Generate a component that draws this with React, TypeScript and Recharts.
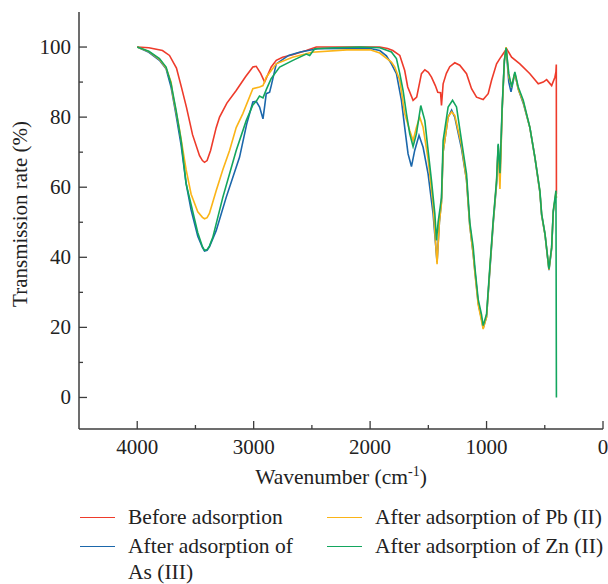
import { LineChart, Line, XAxis, YAxis } from "recharts";

const FONT = "'Liberation Serif', 'DejaVu Serif', serif";
const AXIS = "#3c3c3c";

// Before adsorption
const beforeWn = [4000, 3900, 3783, 3723, 3663, 3620, 3577, 3525, 3465, 3440, 3422, 3400, 3370, 3322, 3293, 3230, 3150, 3070, 3007, 2978, 2940, 2906, 2880, 2849, 2806, 2752, 2666, 2548, 2462, 2300, 2100, 1917, 1850, 1805, 1745, 1703, 1677, 1631, 1600, 1559, 1530, 1500, 1473, 1440, 1419, 1395, 1387, 1373, 1345, 1316, 1273, 1230, 1172, 1129, 1086, 1029, 986, 957, 914, 886, 857, 828, 785, 714, 628, 556, 513, 484, 441, 413, 404, 401, 400];
const beforeT = [100, 99.8, 99, 97.6, 94, 88.5, 82.8, 75, 69, 67.6, 67.1, 67.6, 70.5, 77, 80, 84, 87.6, 91.5, 94.3, 94.5, 92.5, 90, 92, 94.3, 96.2, 97.1, 97.8, 99, 100, 100, 100, 100, 99.6, 99, 97.6, 93.3, 88.6, 84.8, 85.7, 92.4, 93.5, 92.8, 91.4, 89, 87.1, 87, 83.3, 89.5, 92.5, 94.4, 95.5, 94.8, 92.4, 88.1, 85.7, 85, 86.7, 90.5, 95.2, 96.7, 98.1, 99.5, 97.1, 95.2, 92.4, 89.5, 90, 90.7, 89, 91.4, 93, 95, 58];

// After adsorption of As (III)
const asWn = [4000, 3900, 3809, 3752, 3709, 3666, 3623, 3580, 3537, 3480, 3440, 3422, 3400, 3380, 3322, 3236, 3121, 3060, 3007, 2978, 2949, 2920, 2906, 2892, 2863, 2849, 2806, 2700, 2600, 2450, 2200, 2000, 1917, 1860, 1817, 1774, 1731, 1703, 1674, 1645, 1617, 1580, 1545, 1502, 1459, 1425, 1405, 1387, 1373, 1330, 1300, 1273, 1215, 1172, 1144, 1115, 1100, 1072, 1044, 1029, 1000, 970, 943, 914, 900, 885, 866, 847, 832, 809, 790, 757, 728, 685, 628, 585, 542, 527, 498, 464, 441, 427, 404, 400];
const asT = [100, 98.5, 96.2, 93.8, 88.5, 80.5, 72, 61, 53.5, 46, 42.8, 41.8, 42, 43, 47.6, 57.1, 68.6, 78, 84.3, 84.5, 82.9, 79.5, 83, 86.7, 87.1, 89, 95.2, 97.6, 98.6, 99.5, 99.6, 99.6, 99, 97.5, 95.2, 92.4, 84.8, 77.1, 69.5, 65.9, 70.5, 74.8, 71.4, 63.8, 52.4, 38.6, 50, 56, 70, 80, 82, 80, 71, 62, 49, 41, 36, 27, 22.5, 19.8, 23, 37, 49.5, 61, 72, 62, 82, 96, 99.8, 90, 87.2, 92.5, 88, 84, 77, 68.5, 58.5, 52, 46.5, 36.3, 42.5, 53, 58, 57];

// After adsorption of Pb (II)
const pbWn = [4000, 3900, 3809, 3752, 3709, 3695, 3637, 3580, 3537, 3480, 3440, 3422, 3400, 3380, 3322, 3265, 3207, 3150, 3093, 3007, 2949, 2920, 2892, 2806, 2666, 2500, 2200, 2000, 1917, 1817, 1788, 1745, 1703, 1660, 1631, 1602, 1574, 1545, 1502, 1459, 1425, 1405, 1387, 1373, 1330, 1300, 1273, 1215, 1172, 1144, 1115, 1100, 1072, 1044, 1029, 1000, 970, 943, 914, 900, 885, 866, 847, 832, 809, 785, 757, 728, 685, 628, 585, 542, 527, 498, 464, 441, 427, 404, 400];
const pbT = [100, 98.7, 96.5, 94, 90, 86.5, 76.5, 65, 58, 53, 51.4, 51, 51.3, 52.5, 59, 65, 70.5, 77, 81, 88.1, 88.6, 89, 91.4, 95.2, 97.1, 98.5, 99.2, 99.2, 98.3, 95.7, 94.3, 90.5, 81, 76.2, 73.3, 77.1, 80, 77.1, 68, 55, 38, 50, 55.5, 70, 80, 81.5, 80.5, 72, 62, 49, 41, 35.5, 26.5, 22, 19.5, 23, 37.5, 50, 61.5, 71.5, 59.5, 82, 96, 100, 91.5, 89, 92.5, 88, 84.3, 77, 68.5, 58.7, 52.2, 46.5, 36.5, 42.7, 53, 58.5, 57];

// After adsorption of Zn (II)
const znWn = [4000, 3900, 3809, 3752, 3709, 3666, 3623, 3580, 3537, 3480, 3440, 3422, 3400, 3380, 3351, 3265, 3150, 3064, 3007, 2978, 2950, 2920, 2890, 2850, 2777, 2663, 2548, 2519, 2476, 2300, 2089, 1917, 1817, 1774, 1745, 1717, 1688, 1660, 1631, 1602, 1565, 1530, 1502, 1473, 1444, 1430, 1416, 1387, 1373, 1330, 1292, 1258, 1215, 1172, 1144, 1115, 1100, 1072, 1044, 1029, 1000, 970, 943, 914, 900, 885, 866, 847, 832, 809, 785, 757, 728, 685, 628, 585, 542, 527, 498, 464, 441, 427, 404, 400];
const znT = [100, 98.8, 96.7, 94.3, 89.5, 81.9, 73.3, 61, 55, 47, 43, 42, 42.2, 43.2, 45.7, 57.1, 70.5, 79, 83.5, 84.5, 86, 85.5, 88, 91, 94.3, 96.2, 98, 97.6, 99.5, 99.8, 100, 99.8, 98.6, 96.7, 92.4, 87.6, 81, 75.3, 71.6, 75.3, 83.3, 79, 70.5, 61.9, 52.4, 44.8, 50, 57, 73.3, 82.9, 84.8, 82.9, 73.3, 63.8, 50, 43, 37, 28, 23.8, 20.5, 23.8, 38, 50.5, 62, 72.4, 64, 83, 96.2, 99.8, 92.4, 88.6, 92.9, 88.6, 84.8, 77.1, 68.6, 59, 52.4, 46.7, 36.7, 42.9, 53.3, 59, 0];

const xTicks = [0, 500, 1000, 1500, 2000, 2500, 3000, 3500, 4000];
const yTicks = [0, 10, 20, 30, 40, 50, 60, 70, 80, 90, 100];

const toPoints = (wn: number[], t: number[]) => wn.map((w, i) => ({ wn: w, t: t[i] }));

const series = [
  { name: "Before adsorption", color: "#ee3b2b", data: toPoints(beforeWn, beforeT) },
  { name: "After adsorption of As (III)", color: "#1b67ab", data: toPoints(asWn, asT) },
  { name: "After adsorption of Pb (II)", color: "#fbb417", data: toPoints(pbWn, pbT) },
  { name: "After adsorption of Zn (II)", color: "#13a65e", data: toPoints(znWn, znT) },
];

// legend slots: [left, top] of each entry
const legendPos = [
  [80, 504],
  [80, 533],
  [327, 504],
  [327, 533],
];

const XTick = (props: any) => {
  const { x, y, payload } = props;
  const major = payload.value % 1000 === 0;
  return (
    <g>
      <line x1={x} x2={x} y1={y} y2={y - (major ? 8 : 4)} stroke={AXIS} strokeWidth={1.3} />
      {major && (
        <text x={x} y={y + 25} textAnchor="middle" fontFamily={FONT} fontSize={21} fill="#222">
          {payload.value}
        </text>
      )}
    </g>
  );
};

const YTick = (props: any) => {
  const { x, y, payload } = props;
  const major = payload.value % 20 === 0;
  return (
    <g>
      <line x1={x} x2={x + (major ? 8 : 4)} y1={y} y2={y} stroke={AXIS} strokeWidth={1.3} />
      {major && (
        <text x={x - 8} y={y + 7} textAnchor="end" fontFamily={FONT} fontSize={21} fill="#222">
          {payload.value}
        </text>
      )}
    </g>
  );
};

export default function App() {
  return (
    <div style={{ position: "absolute", left: 0, top: 0, width: 608, height: 584, background: "#fff", fontFamily: FONT, color: "#222" }}>
      <LineChart width={608} height={480} margin={{ top: 12, right: 5, bottom: 0, left: 0 }}>
        <XAxis
          type="number"
          dataKey="wn"
          domain={[0, 4500]}
          reversed
          allowDataOverflow
          ticks={xTicks}
          interval={0}
          height={51}
          tickSize={0}
          tickMargin={0}
          tick={<XTick />}
          axisLine={{ stroke: AXIS, strokeWidth: 1.5 }}
        />
        <XAxis
          xAxisId="top"
          orientation="top"
          type="number"
          dataKey="wn"
          domain={[0, 4500]}
          reversed
          height={0}
          tick={false}
          tickLine={false}
          axisLine={{ stroke: AXIS, strokeWidth: 1.5 }}
        />
        <YAxis
          type="number"
          domain={[-9, 110]}
          allowDataOverflow
          ticks={yTicks}
          interval={0}
          width={79}
          tickSize={0}
          tickMargin={0}
          tick={<YTick />}
          axisLine={{ stroke: AXIS, strokeWidth: 1.5 }}
        />
        <YAxis
          yAxisId="right"
          orientation="right"
          type="number"
          domain={[-9, 110]}
          width={0}
          tick={false}
          tickLine={false}
          axisLine={{ stroke: AXIS, strokeWidth: 1.5 }}
        />
        {series.map((s) => (
          <Line
            key={s.name}
            data={s.data}
            dataKey="t"
            name={s.name}
            type="linear"
            stroke={s.color}
            strokeWidth={1.6}
            dot={false}
            activeDot={false}
            isAnimationActive={false}
          />
        ))}
      </LineChart>

      <div style={{ position: "absolute", left: 20, top: 214, transform: "translate(-50%, -50%) rotate(-90deg)", whiteSpace: "nowrap", fontSize: 21 }}>
        Transmission rate (%)
      </div>
      <div style={{ position: "absolute", left: 341, top: 477, transform: "translate(-50%, -50%)", whiteSpace: "nowrap", fontSize: 21.5 }}>
        Wavenumber (cm<sup style={{ fontSize: 14 }}>-1</sup>)
      </div>

      {series.map((s, i) => (
        <div key={s.name} style={{ position: "absolute", left: legendPos[i][0], top: legendPos[i][1], display: "flex", alignItems: "flex-start", fontSize: 21.5, lineHeight: "26px" }}>
          <div style={{ width: 35, borderTop: `1.5px solid ${s.color}`, marginTop: 13 }} />
          <div style={{ marginLeft: 13, width: i === 1 ? 175 : 250 }}>{s.name}</div>
        </div>
      ))}
    </div>
  );
}
